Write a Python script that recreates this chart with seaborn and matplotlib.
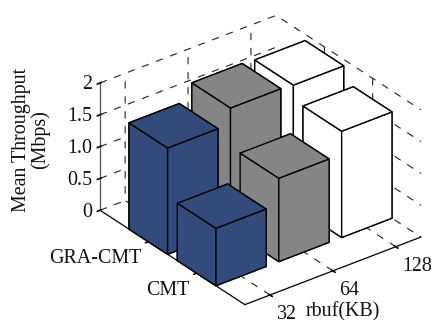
import matplotlib
matplotlib.use("Agg")
import matplotlib.pyplot as plt
import numpy as np
import pandas as pd
import seaborn as sns

rbuf_labels = ["32", "64", "128"]
scheme_labels = ["CMT", "GRA-CMT"]
cmt_throughput = [0.90, 1.31, 1.67]
gra_cmt_throughput = [1.67, 1.92, 1.90]
z_ticks = [0, 0.5, 1.0, 1.5, 2]
z_tick_labels = ["0", "0.5", "1.0", "1.5", "2"]
bar_colors = {"32": "#334b7a", "64": "#858585", "128": "#ffffff"}

df = pd.DataFrame({
    "rbuf": rbuf_labels * 2,
    "scheme": ["CMT"] * 3 + ["GRA-CMT"] * 3,
    "throughput": cmt_throughput + gra_cmt_throughput,
})
df["x"] = df["rbuf"].map({r: i + 1 for i, r in enumerate(rbuf_labels)})
df["y"] = df["scheme"].map({s: i + 1 for i, s in enumerate(scheme_labels)})

sns.set_theme(style="white")
plt.rcParams["font.family"] = ["Liberation Serif", "DejaVu Serif"]
plt.rcParams["grid.color"] = "#222222"
plt.rcParams["grid.linewidth"] = 0.8
plt.rcParams["grid.linestyle"] = (0, (6.5, 7))
plt.rcParams["axes3d.grid"] = True

fig = plt.figure(figsize=(4.33, 3.2), dpi=100)
size = 346.6
ax = fig.add_axes([82.5 / 433, -18 / 320, size / 433, size / 320], projection="3d", proj_type="ortho")
ax.view_init(elev=30, azim=-127.5)
ax.set_box_aspect((222, 238, 147))
ax.patch.set_alpha(0)

width = 0.8
ax.bar3d(df["x"] - width / 2, df["y"] - width / 2, np.zeros(len(df)), width, width, df["throughput"],
         color=df["rbuf"].map(bar_colors).tolist(), edgecolor="black", linewidth=1.0, shade=False)

ax.set_xlim(0.6, 3.4)
ax.set_ylim(0, 3)
ax.set_zlim(0, 2)
ax.set_xticks([1, 2, 3], rbuf_labels, ha="left")
ax.set_yticks([1, 2], scheme_labels, ha="right")
ax.set_zticks(z_ticks, z_tick_labels, ha="right", va="center_baseline")
ax.tick_params(axis="both", labelsize=14.4, colors="#111111")
ax.tick_params(axis="x", pad=-2)
ax.tick_params(axis="y", pad=-3)
ax.tick_params(axis="z", pad=-5)

for axis in [ax.xaxis, ax.yaxis, ax.zaxis]:
    axis.set_pane_color((1, 1, 1, 0))
    axis.pane.set_edgecolor("none")
    axis.line.set_color("black")
    axis.line.set_linewidth(0.9)
ax.zaxis.line.set_color("#555555")

fig.text(343 / 433, 1 - 316 / 320, "rbuf(KB)", ha="center", va="baseline", fontsize=14.4, color="#111111")
fig.text(31 / 433, 1 - 140 / 320, "Mean Throughput\n(Mbps)", rotation=90, ha="center", va="center",
         ma="center", fontsize=14.4, color="#111111", linespacing=1.0)

fig.savefig("out.png", dpi=100)
